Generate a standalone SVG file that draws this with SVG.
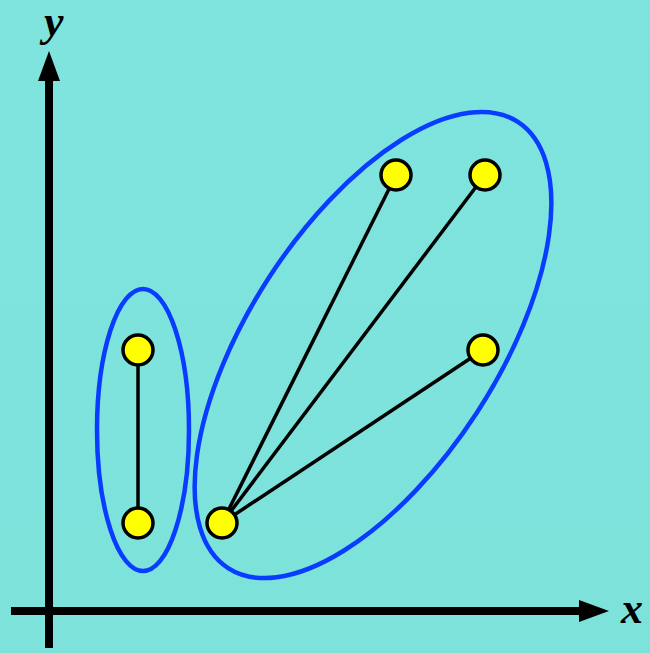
<svg xmlns="http://www.w3.org/2000/svg" width="650" height="653" viewBox="0 0 650 653">
  <defs>
    <linearGradient id="bg" x1="0" y1="0" x2="0" y2="1">
      <stop offset="0" stop-color="#7fe4de"/>
      <stop offset="1" stop-color="#7de2da"/>
    </linearGradient>
    <style>
      .group { fill: none; stroke: #0a3cff; stroke-width: 4.5; }
      .edge { stroke: #000; stroke-width: 3.5; fill: none; }
      .node { fill: #ffff00; stroke: #000; stroke-width: 3.5; }
      .axis { stroke: #000; stroke-width: 8; fill: none; }
      .label { font-family: "Liberation Serif", "Times New Roman", serif; font-style: italic; font-weight: bold; font-size: 44px; fill: #000; }
    </style>
  </defs>
  <rect width="650" height="653" fill="url(#bg)"/>

  <g id="axes">
    <line class="axis" x1="49" y1="648" x2="49" y2="78"/>
    <polygon points="49,51 38,81 60,81" fill="#000"/>
    <line class="axis" x1="11" y1="611" x2="582" y2="611"/>
    <polygon points="609,611 579,600 579,622" fill="#000"/>
    <text class="label" x="44" y="36">y</text>
    <text class="label" x="621" y="623">x</text>
  </g>

  <g id="clusters">
    <ellipse id="cluster-small" class="group" cx="143" cy="430" rx="46" ry="141"/>
    <ellipse id="cluster-large" class="group" cx="373" cy="345" rx="266" ry="124" transform="rotate(-57 373 345)"/>
  </g>

  <g id="connectors">
    <line class="edge" x1="138" y1="350" x2="138" y2="523"/>
    <line class="edge" x1="222" y1="523" x2="396" y2="175"/>
    <line class="edge" x1="222" y1="523" x2="485" y2="175"/>
    <line class="edge" x1="222" y1="523" x2="483" y2="350"/>
  </g>

  <g id="n1"><circle class="node" cx="138" cy="350" r="15"/></g>
  <g id="n2"><circle class="node" cx="138" cy="523" r="15"/></g>
  <g id="n3"><circle class="node" cx="222" cy="523" r="15"/></g>
  <g id="n4"><circle class="node" cx="396" cy="175" r="15"/></g>
  <g id="n5"><circle class="node" cx="485" cy="175" r="15"/></g>
  <g id="n6"><circle class="node" cx="483" cy="350" r="15"/></g>
</svg>
